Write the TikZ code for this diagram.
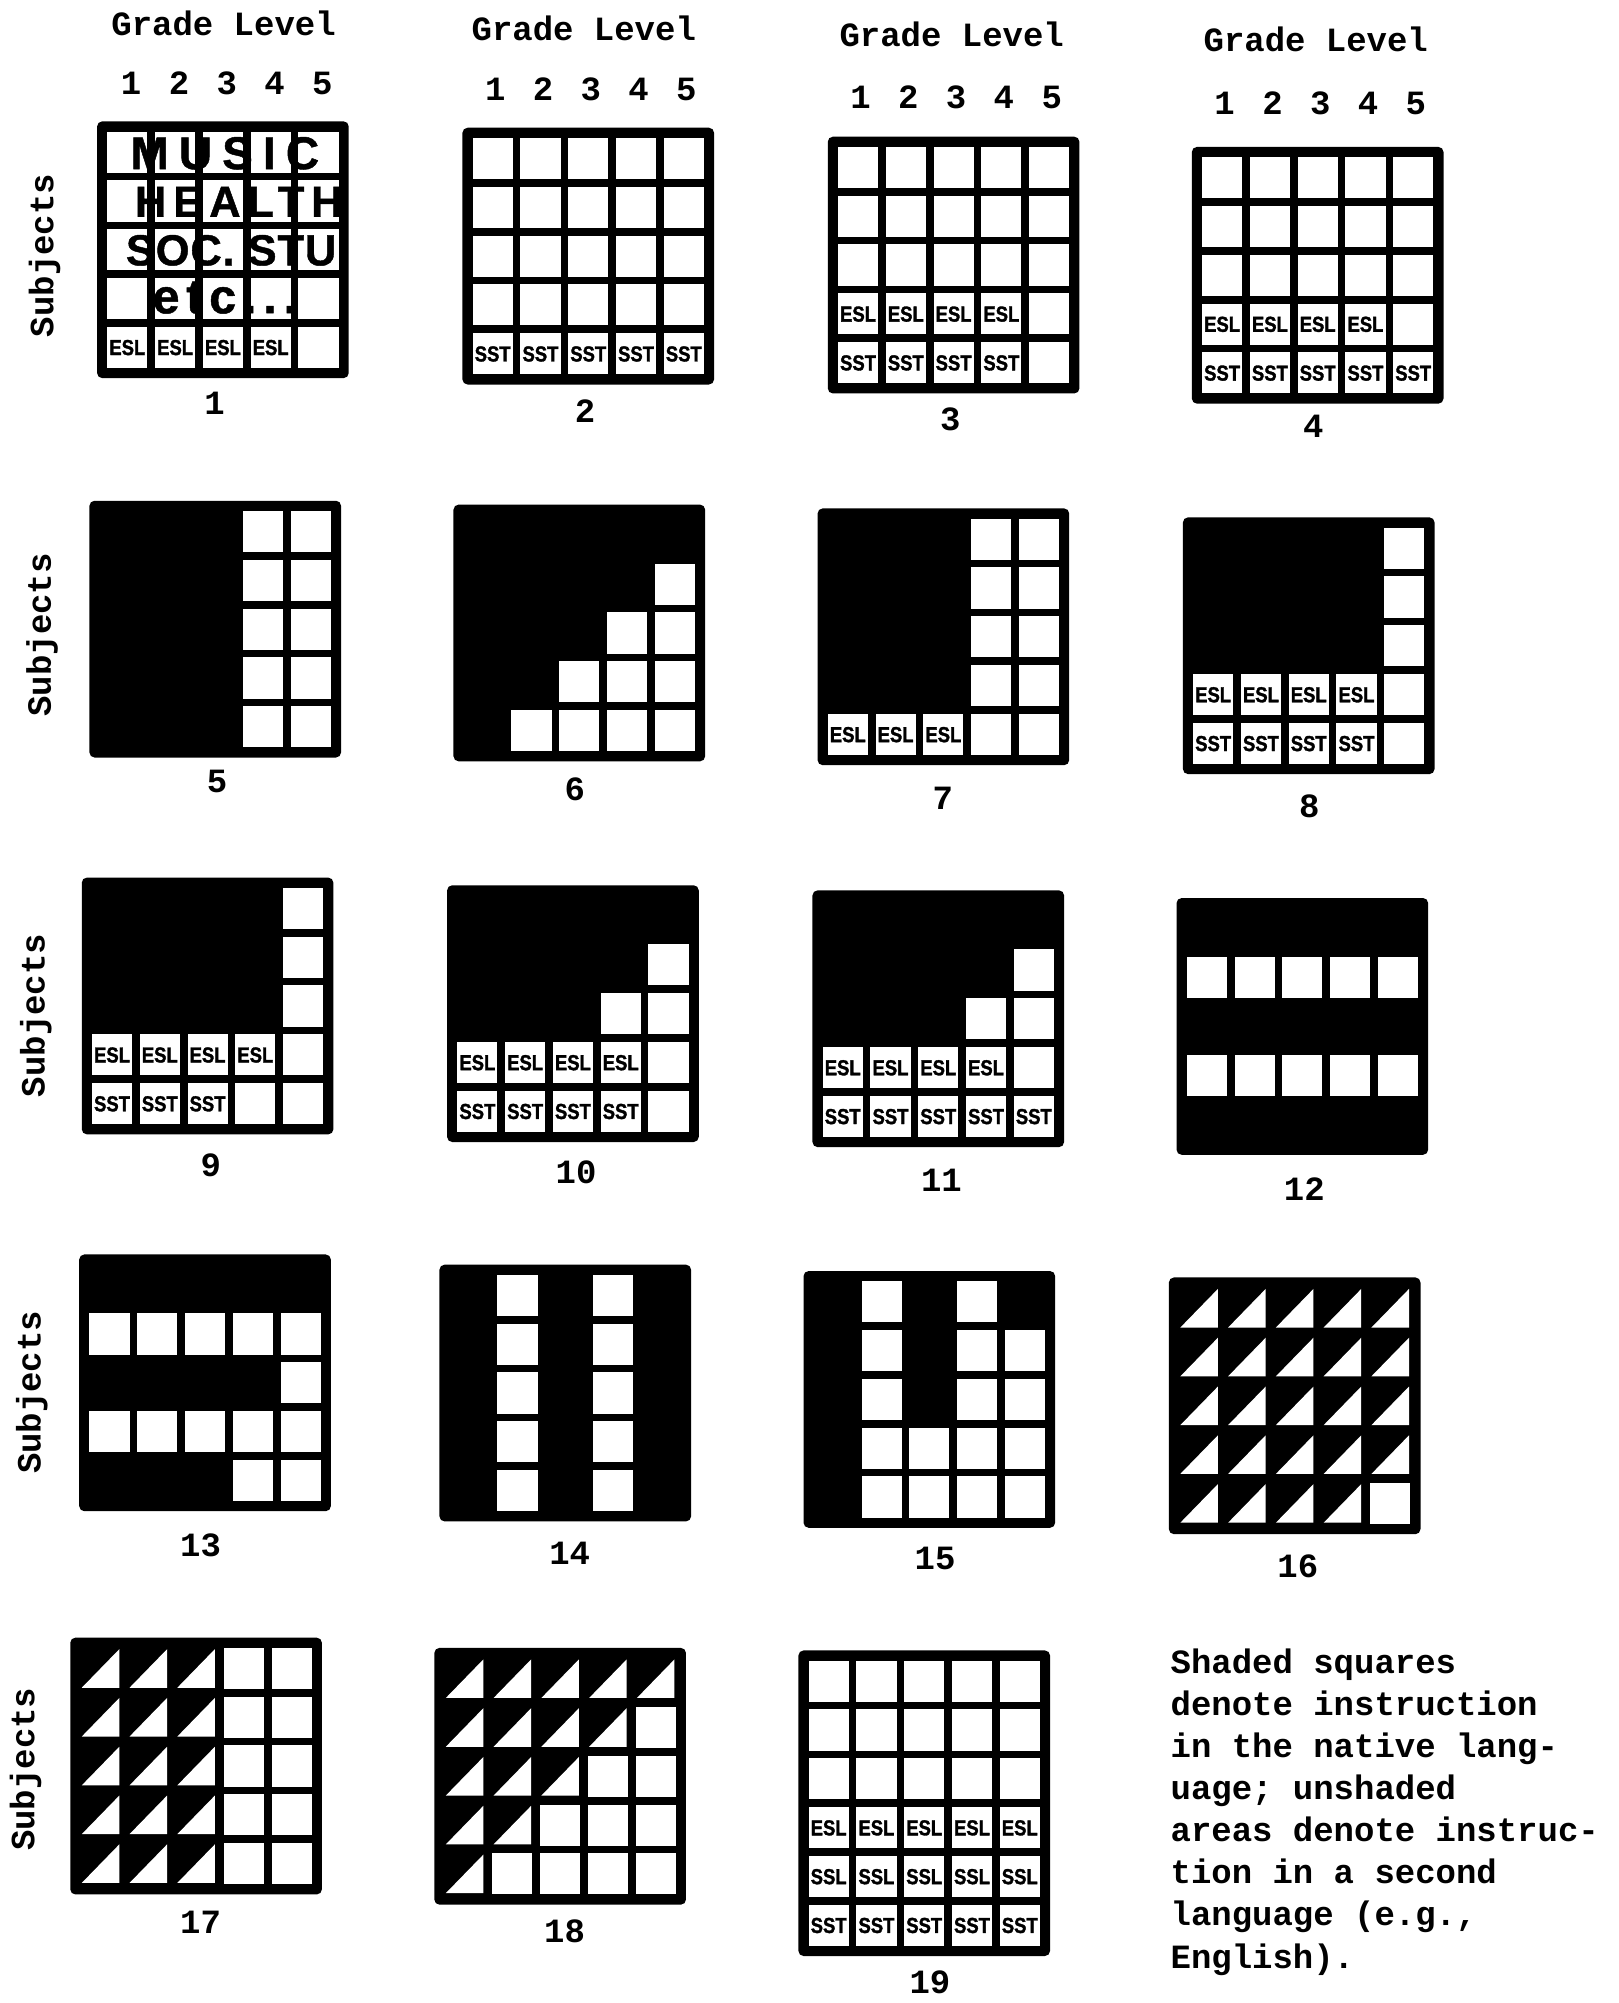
\documentclass[tikz,border=0pt]{standalone}
\usepackage{fontspec}
\setmainfont{Liberation Mono}
\newfontfamily\hand{Liberation Sans}
\newcounter{cellno}
\newcommand\gridbg[1]{\fill[black,rounded corners=2pt] (0,0) rectangle (197,{16+#1*38.2-6});}
\newcommand\wcell[2]{\fill[white] ({8+(#1-1)*37.4},{8+(#2-1)*38.2}) rectangle ++(31.4,32.2);}
\newcommand\tcell[2]{\fill[white] ({8+(#1-1)*37.4+1},{8+(#2-1)*38.2+31.2}) -- ++(29.4,0) -- ++(0,-30.2) -- cycle;}
\newcommand\lcell[3]{\wcell{#1}{#2}\stepcounter{cellno}\node[cl] (cell\arabic{cellno}) at ({8+(#1-1)*37.4+15.7},{8+(#2-1)*38.2+16.3}) {#3};}
\begin{document}
\begin{tikzpicture}[x=0.5pt,y=-0.5pt,
  typed/.style={font=\fontsize{13.3}{16.5}\selectfont\bfseries, inner sep=0pt},
  cl/.style={font=\hand\fontsize{8.5}{9}\selectfont\bfseries\addfontfeatures{FakeBold=1.5,FakeStretch=0.85}, inner sep=0pt},
]
\useasboundingbox (0,0) rectangle (1267,1568);

% headers
\node[typed] (gl1) at (175,18) {Grade Level};
\node[typed] (gl2) at (457,22) {Grade Level};
\node[typed] (gl3) at (745,27) {Grade Level};
\node[typed] (gl4) at (1030,31) {Grade Level};
\foreach \c in {1,...,5} {
  \node[typed] (da\c) at ({76+23.7+(\c-1)*37.4+3},65) {\c};
  \node[typed] (db\c) at ({362+23.7+(\c-1)*37.4+2},70) {\c};
  \node[typed] (dc\c) at ({648+23.7+(\c-1)*37.4+2},76) {\c};
  \node[typed] (dd\c) at ({933+23.7+(\c-1)*37.4+2},81) {\c};
}
% Subjects labels
\node[typed, rotate=90] (subj1) at (35,200) {Subjects};
\node[typed, rotate=90] (subj2) at (33,497) {Subjects};
\node[typed, rotate=90] (subj3) at (28,795) {Subjects};
\node[typed, rotate=90] (subj4) at (25,1090) {Subjects};
\node[typed, rotate=90] (subj5) at (20,1385) {Subjects};

% ---------- Grid 1
\begin{scope}[shift={(76,95)}]
\gridbg{5}
\foreach \c in {1,...,5} \foreach \r in {1,...,4} {\wcell{\c}{\r}}
\foreach \c in {1,...,4} {\lcell{\c}{5}{ESL}}
\wcell{5}{5}
\node[inner sep=0pt, font=\hand\fontsize{18}{18}\selectfont\bfseries\addfontfeatures{LetterSpace=22,FakeBold=1}] (music) at (100,25) {MUSIC};
\node[inner sep=0pt, font=\hand\fontsize{17}{17}\selectfont\bfseries\addfontfeatures{LetterSpace=16,FakeBold=1}] (health) at (111,63) {HEALTH};
\node[inner sep=0pt, font=\hand\fontsize{17}{17}\selectfont\bfseries\addfontfeatures{LetterSpace=2,FakeBold=1}] (socstu) at (110,101) {SOC. STU.};
\node[inner sep=0pt, font=\hand\fontsize{19}{19}\selectfont\bfseries\addfontfeatures{LetterSpace=14,FakeBold=1}] (etc) at (100,138) {etc...};
\end{scope}
\node[typed] (n1) at (168,316) {1};

% ---------- Grid 2
\begin{scope}[shift={(362,100)}]
\gridbg{5}
\foreach \c in {1,...,5} \foreach \r in {1,...,4} {\wcell{\c}{\r}}
\foreach \c in {1,...,5} {\lcell{\c}{5}{SST}}
\end{scope}
\node[typed] (n2) at (458,322) {2};

% ---------- Grid 3
\begin{scope}[shift={(648,107)}]
\gridbg{5}
\foreach \c in {1,...,5} \foreach \r in {1,...,3} {\wcell{\c}{\r}}
\foreach \c in {1,...,4} {\lcell{\c}{4}{ESL}\lcell{\c}{5}{SST}}
\wcell{5}{4}\wcell{5}{5}
\end{scope}
\node[typed] (n3) at (744,328) {3};

% ---------- Grid 4
\begin{scope}[shift={(933,115)}]
\gridbg{5}
\foreach \c in {1,...,5} \foreach \r in {1,...,3} {\wcell{\c}{\r}}
\foreach \c in {1,...,4} {\lcell{\c}{4}{ESL}}
\wcell{5}{4}
\foreach \c in {1,...,5} {\lcell{\c}{5}{SST}}
\end{scope}
\node[typed] (n4) at (1028,334) {4};

% ---------- Grid 5
\begin{scope}[shift={(70,392)}]
\gridbg{5}
\foreach \c in {4,5} \foreach \r in {1,...,5} {\wcell{\c}{\r}}
\end{scope}
\node[typed] (n5) at (170,612) {5};

% ---------- Grid 6
\begin{scope}[shift={(355,395)}]
\gridbg{5}
\foreach \r/\s in {2/5,3/4,4/3,5/2} \foreach \c in {\s,...,5} {\wcell{\c}{\r}}
\end{scope}
\node[typed] (n6) at (450,618) {6};

% ---------- Grid 7
\begin{scope}[shift={(640,398)}]
\gridbg{5}
\foreach \c in {4,5} \foreach \r in {1,...,5} {\wcell{\c}{\r}}
\foreach \c in {1,...,3} {\lcell{\c}{5}{ESL}}
\end{scope}
\node[typed] (n7) at (738,625) {7};

% ---------- Grid 8
\begin{scope}[shift={(926,405)}]
\gridbg{5}
\foreach \r in {1,...,5} {\wcell{5}{\r}}
\foreach \c in {1,...,4} {\lcell{\c}{4}{ESL}\lcell{\c}{5}{SST}}
\end{scope}
\node[typed] (n8) at (1025,631) {8};

% ---------- Grid 9
\begin{scope}[shift={(64,687)}]
\gridbg{5}
\foreach \r in {1,...,5} {\wcell{5}{\r}}
\foreach \c in {1,...,4} {\lcell{\c}{4}{ESL}}
\foreach \c in {1,...,3} {\lcell{\c}{5}{SST}}
\wcell{4}{5}
\end{scope}
\node[typed] (n9) at (165,912) {9};

% ---------- Grid 10
\begin{scope}[shift={(350,693)}]
\gridbg{5}
\wcell{5}{2}\wcell{4}{3}\wcell{5}{3}\wcell{5}{4}\wcell{5}{5}
\foreach \c in {1,...,4} {\lcell{\c}{4}{ESL}\lcell{\c}{5}{SST}}
\end{scope}
\node[typed] (n10) at (451,918) {10};

% ---------- Grid 11
\begin{scope}[shift={(636,697)}]
\gridbg{5}
\wcell{5}{2}\wcell{4}{3}\wcell{5}{3}\wcell{5}{4}
\foreach \c in {1,...,4} {\lcell{\c}{4}{ESL}}
\foreach \c in {1,...,5} {\lcell{\c}{5}{SST}}
\end{scope}
\node[typed] (n11) at (737,924) {11};

% ---------- Grid 12
\begin{scope}[shift={(921,703)}]
\gridbg{5}
\foreach \c in {1,...,5} {\wcell{\c}{2}\wcell{\c}{4}}
\end{scope}
\node[typed] (n12) at (1021,931) {12};

% ---------- Grid 13
\begin{scope}[shift={(62,982)}]
\gridbg{5}
\foreach \c in {1,...,5} {\wcell{\c}{2}\wcell{\c}{4}}
\wcell{5}{3}\wcell{4}{5}\wcell{5}{5}
\end{scope}
\node[typed] (n13) at (157,1210) {13};

% ---------- Grid 14
\begin{scope}[shift={(344,990)}]
\gridbg{5}
\foreach \r in {1,...,5} {\wcell{2}{\r}\wcell{4}{\r}}
\end{scope}
\node[typed] (n14) at (446,1216) {14};

% ---------- Grid 15
\begin{scope}[shift={(629,995)}]
\gridbg{5}
\foreach \r in {1,...,5} {\wcell{2}{\r}\wcell{4}{\r}}
\foreach \r in {2,...,5} {\wcell{5}{\r}}
\wcell{3}{4}\wcell{3}{5}
\end{scope}
\node[typed] (n15) at (732,1220) {15};

% ---------- Grid 16
\begin{scope}[shift={(915,1000)}]
\gridbg{5}
\foreach \c in {1,...,5} \foreach \r in {1,...,4} {\tcell{\c}{\r}}
\foreach \c in {1,...,4} {\tcell{\c}{5}}
\wcell{5}{5}
\end{scope}
\node[typed] (n16) at (1016,1226) {16};

% ---------- Grid 17
\begin{scope}[shift={(55,1282)}]
\gridbg{5}
\foreach \r in {1,...,5} {\tcell{1}{\r}\tcell{2}{\r}\tcell{3}{\r}\wcell{4}{\r}\wcell{5}{\r}}
\end{scope}
\node[typed] (n17) at (157,1505) {17};

% ---------- Grid 18
\begin{scope}[shift={(340,1290)}]
\gridbg{5}
\foreach \c in {1,...,5} {\tcell{\c}{1}}
\foreach \r/\s in {2/4,3/3,4/2,5/1} {
  \foreach \c in {1,...,\s} {\tcell{\c}{\r}}
}
\foreach \r/\s in {2/5,3/4,4/3,5/2} \foreach \c in {\s,...,5} {\wcell{\c}{\r}}
\end{scope}
\node[typed] (n18) at (442,1512) {18};

% ---------- Grid 19
\begin{scope}[shift={(625,1292)}]
\gridbg{6}
\foreach \c in {1,...,5} \foreach \r in {1,...,3} {\wcell{\c}{\r}}
\foreach \c in {1,...,5} {\lcell{\c}{4}{ESL}\lcell{\c}{5}{SSL}\lcell{\c}{6}{SST}}
\end{scope}
\node[typed] (n19) at (728,1552) {19};

% legend text
\node[typed, anchor=north west, align=left] (legend) at (916,1290)
 {Shaded squares\\denote instruction\\in the native lang-\\uage; unshaded\\areas denote instruc-\\tion in a second\\language (e.g.,\\English).};
\end{tikzpicture}
\end{document}
